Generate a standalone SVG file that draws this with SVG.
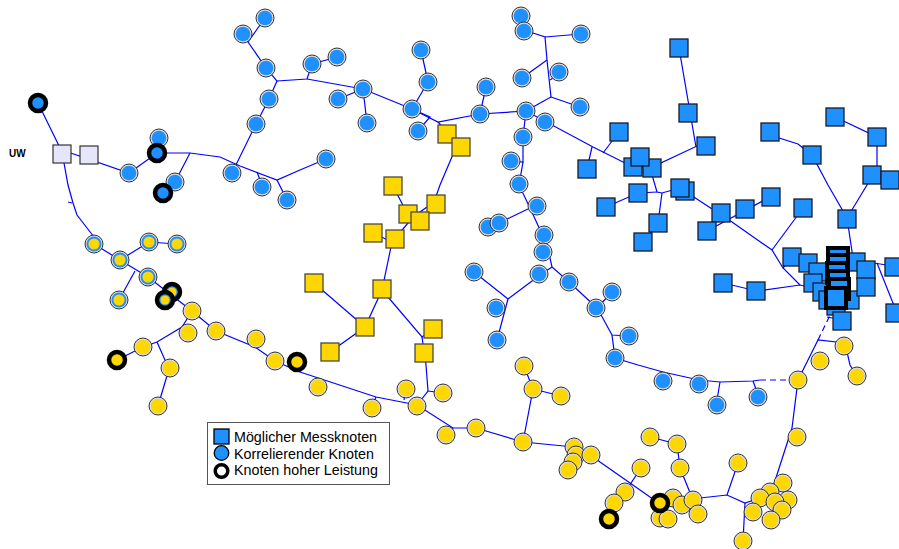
<svg xmlns="http://www.w3.org/2000/svg" xmlns:xlink="http://www.w3.org/1999/xlink" width="899" height="549" viewBox="0 0 899 549">
<style>
.e polyline{fill:none;stroke:#0000FF;stroke-width:1.2}
.e .d{stroke-dasharray:6 4}
text{font-family:"Liberation Sans",Arial,sans-serif}
</style>
<defs>
<g id="bc"><circle r="9" fill="#d9d9de" stroke="#333" stroke-width="1"/><circle r="7.3" fill="#1E90FF"/></g>
<g id="yc"><circle r="9" fill="#d9d9de" stroke="#333" stroke-width="1"/><circle r="7.3" fill="#FFD700"/></g>
<g id="ybc"><circle r="9" fill="#d9d9de" stroke="#333" stroke-width="1"/><circle r="7.5" fill="#1E90FF"/><circle r="5.6" fill="#FFD700"/></g>
<g id="hbc"><circle r="8" fill="#1E90FF" stroke="#000" stroke-width="4.5"/></g>
<g id="hyc"><circle r="8" fill="#FFD700" stroke="#000" stroke-width="4.5"/></g>
<g id="hybc"><circle r="8" fill="#1E90FF" stroke="#000" stroke-width="4.5"/><circle r="4.5" fill="#FFD700"/></g>
<rect id="bs" x="-9" y="-9" width="18" height="18" fill="#1E90FF" stroke="#1a1a28" stroke-width="1.3"/>
<rect id="ys" x="-9" y="-9" width="18" height="18" fill="#FFD700" stroke="#4a4a3a" stroke-width="1.3"/>
<rect id="ls" x="-9" y="-9" width="18" height="18" fill="#E6E6FA" stroke="#333" stroke-width="1.2"/>
<rect id="ks" x="-10" y="-10" width="20" height="20" fill="#1E90FF" stroke="#000" stroke-width="4"/>
</defs>
<rect width="899" height="549" fill="#fff"/>
<text x="9" y="157" font-size="10" font-weight="bold">UW</text>
<g id="connectors" class="e">
<polyline points="38,103 62,152 68,185 73,203 77,215 94,237"/>
<polyline points="68,202 72,203"/>
<polyline points="94,244 120,260 149,242 177,244"/>
<polyline points="62,150 129,173 157,153 190,153 220,157 240,166 277,180 300,170 326,159"/>
<polyline points="190,153 175,182"/>
<polyline points="257,172 262,185"/>
<polyline points="277,180 287,200"/>
<polyline points="232,173 256,124 269,99 277,81 266,68 248,42 265,18"/>
<polyline points="248,42 243,34"/>
<polyline points="277,81 307,79 312,64 337,57"/>
<polyline points="307,79 363,89 412,109 438,122 480,114 526,111 593,147 625,163 650,168 697,146 706,146"/>
<polyline points="363,89 338,99"/>
<polyline points="363,89 367,123"/>
<polyline points="412,109 428,82 421,50"/>
<polyline points="412,109 430,117 418,131"/>
<polyline points="438,122 447,132 452,132 457,145 462,146"/>
<polyline points="457,145 440,185 434,202 413,217 392,242 382,290 365,327 330,352"/>
<polyline points="393,186 408,215 420,221"/>
<polyline points="373,233 392,242"/>
<polyline points="314,283 365,327"/>
<polyline points="382,290 422,337 433,329"/>
<polyline points="422,337 426,365 428,391 417,405"/>
<polyline points="428,391 443,393"/>
<polyline points="480,114 486,87"/>
<polyline points="526,111 533,107 551,97 547,60 545,37 533,33 524,31"/>
<polyline points="545,37 581,34"/>
<polyline points="547,60 522,78"/>
<polyline points="551,97 580,107"/>
<polyline points="550,80 556,76"/>
<polyline points="526,111 523,137 523,162 511,161"/>
<polyline points="523,162 519,185 530,208 547,245 552,267 569,282 597,308"/>
<polyline points="530,208 499,223"/>
<polyline points="552,267 540,275 508,299 474,272"/>
<polyline points="508,299 497,340"/>
<polyline points="597,308 612,292"/>
<polyline points="600,313 612,335 629,336"/>
<polyline points="612,335 615,358 638,365 663,372 699,380 720,382 753,381 760,380"/>
<polyline class="d" points="760,380 792,380"/>
<polyline points="720,382 717,400"/>
<polyline points="753,381 757,392"/>
<polyline points="798,380 792,428 773,487"/>
<polyline points="798,380 807,362 818,340 845,343 850,365 857,376"/>
<polyline class="d" points="818,340 835,305"/>
<polyline points="827,317 842,320"/>
<polyline points="679,48 696,147"/>
<polyline points="619,132 603,153"/>
<polyline points="592,147 587,169"/>
<polyline points="640,157 650,168"/>
<polyline points="650,168 657,192 662,193 680,188"/>
<polyline points="657,192 638,193 606,207"/>
<polyline points="662,193 658,223 643,243"/>
<polyline points="680,188 732,222 772,250 783,268 800,285"/>
<polyline points="707,231 770,197"/>
<polyline points="772,250 803,208"/>
<polyline points="783,268 792,257"/>
<polyline points="723,283 757,291 800,285 820,290"/>
<polyline points="770,132 773,136 798,144 812,155 828,185 847,218"/>
<polyline points="835,117 877,137 877,169 867,185 847,218"/>
<polyline points="877,169 890,180"/>
<polyline points="847,218 853,258"/>
<polyline points="855,260 899,267"/>
<polyline points="877,263 899,318"/>
<polyline points="120,260 148,277 192,311 216,331 255,347 275,361 300,372 376,397 417,405 453,428 476,428 523,442 574,447 591,455 600,462 650,497 660,503"/>
<polyline points="135,271 119,300"/>
<polyline points="192,311 182,327 157,342 143,347 117,360"/>
<polyline points="157,342 169,369 158,406"/>
<polyline points="255,347 256,339"/>
<polyline points="376,397 372,408"/>
<polyline points="404,400 406,389"/>
<polyline points="453,428 446,435"/>
<polyline points="523,442 533,389 524,366"/>
<polyline points="533,389 561,396"/>
<polyline points="609,519 614,503 625,492 641,468"/>
<polyline points="650,437 677,444 680,468 693,500 700,498 727,495 745,503 760,498"/>
<polyline points="727,495 738,463"/>
<polyline points="745,503 743,541"/>
<polyline points="773,487 770,492"/>
</g>
<g id="nodes">
<g id="uw1"><use href="#ls" x="62" y="154"/></g>
<g id="uw2"><use href="#ls" x="89" y="155"/></g>
<g id="b1"><use href="#bc" x="265" y="18"/></g>
<g id="b2"><use href="#bc" x="243" y="34"/></g>
<g id="b3"><use href="#bc" x="266" y="68"/></g>
<g id="b4"><use href="#bc" x="269" y="99"/></g>
<g id="b5"><use href="#bc" x="256" y="124"/></g>
<g id="b6"><use href="#bc" x="159" y="138"/></g>
<g id="b7"><use href="#bc" x="129" y="173"/></g>
<g id="b8"><use href="#bc" x="232" y="173"/></g>
<g id="b9"><use href="#bc" x="262" y="187"/></g>
<g id="b10"><use href="#bc" x="175" y="182"/></g>
<g id="b11"><use href="#bc" x="287" y="200"/></g>
<g id="b12"><use href="#bc" x="312" y="64"/></g>
<g id="b13"><use href="#bc" x="337" y="57"/></g>
<g id="b14"><use href="#bc" x="363" y="89"/></g>
<g id="b15"><use href="#bc" x="338" y="99"/></g>
<g id="b16"><use href="#bc" x="367" y="123"/></g>
<g id="b17"><use href="#bc" x="421" y="50"/></g>
<g id="b18"><use href="#bc" x="428" y="82"/></g>
<g id="b19"><use href="#bc" x="412" y="109"/></g>
<g id="b20"><use href="#bc" x="418" y="131"/></g>
<g id="b21"><use href="#bc" x="480" y="114"/></g>
<g id="b22"><use href="#bc" x="486" y="87"/></g>
<g id="b23"><use href="#bc" x="326" y="159"/></g>
<g id="b24"><use href="#bc" x="521" y="16"/></g>
<g id="b25"><use href="#bc" x="524" y="31"/></g>
<g id="b26"><use href="#bc" x="581" y="34"/></g>
<g id="b27"><use href="#bc" x="559" y="72"/></g>
<g id="b28"><use href="#bc" x="522" y="78"/></g>
<g id="b29"><use href="#bc" x="580" y="107"/></g>
<g id="b30"><use href="#bc" x="526" y="111"/></g>
<g id="b31"><use href="#bc" x="545" y="122"/></g>
<g id="b32"><use href="#bc" x="523" y="137"/></g>
<g id="b33"><use href="#bc" x="511" y="161"/></g>
<g id="b34"><use href="#bc" x="519" y="184"/></g>
<g id="b35"><use href="#bc" x="537" y="206"/></g>
<g id="b36"><use href="#bc" x="488" y="227"/></g>
<g id="b37"><use href="#bc" x="499" y="223"/></g>
<g id="b38"><use href="#bc" x="544" y="235"/></g>
<g id="b39"><use href="#bc" x="543" y="252"/></g>
<g id="b40"><use href="#bc" x="474" y="272"/></g>
<g id="b41"><use href="#bc" x="539" y="274"/></g>
<g id="b42"><use href="#bc" x="569" y="282"/></g>
<g id="b43"><use href="#bc" x="596" y="308"/></g>
<g id="b44"><use href="#bc" x="612" y="292"/></g>
<g id="b45"><use href="#bc" x="496" y="308"/></g>
<g id="b46"><use href="#bc" x="497" y="340"/></g>
<g id="b47"><use href="#bc" x="629" y="336"/></g>
<g id="b48"><use href="#bc" x="615" y="358"/></g>
<g id="b49"><use href="#bc" x="663" y="381"/></g>
<g id="b50"><use href="#bc" x="699" y="384"/></g>
<g id="b51"><use href="#bc" x="717" y="405"/></g>
<g id="b52"><use href="#bc" x="758" y="397"/></g>
<g id="hb1"><use href="#hbc" x="38" y="103"/></g>
<g id="hb2"><use href="#hbc" x="157" y="153"/></g>
<g id="hb3"><use href="#hbc" x="163" y="193"/></g>
<g id="yb1"><use href="#ybc" x="94" y="244"/></g>
<g id="yb2"><use href="#ybc" x="120" y="260"/></g>
<g id="yb3"><use href="#ybc" x="149" y="242"/></g>
<g id="yb4"><use href="#ybc" x="177" y="244"/></g>
<g id="yb5"><use href="#ybc" x="148" y="277"/></g>
<g id="yb6"><use href="#ybc" x="119" y="300"/></g>
<g id="hyb1"><use href="#hybc" x="172" y="292"/></g>
<g id="hyb2"><use href="#hybc" x="165" y="300"/></g>
<g id="y1"><use href="#yc" x="192" y="311"/></g>
<g id="y2"><use href="#yc" x="188" y="333"/></g>
<g id="y3"><use href="#yc" x="216" y="331"/></g>
<g id="y4"><use href="#yc" x="256" y="339"/></g>
<g id="y5"><use href="#yc" x="143" y="347"/></g>
<g id="y6"><use href="#yc" x="170" y="368"/></g>
<g id="y7"><use href="#yc" x="158" y="406"/></g>
<g id="y8"><use href="#yc" x="275" y="361"/></g>
<g id="y9"><use href="#yc" x="318" y="387"/></g>
<g id="y10"><use href="#yc" x="372" y="408"/></g>
<g id="y11"><use href="#yc" x="406" y="389"/></g>
<g id="y12"><use href="#yc" x="417" y="406"/></g>
<g id="y13"><use href="#yc" x="443" y="393"/></g>
<g id="y14"><use href="#yc" x="446" y="435"/></g>
<g id="y15"><use href="#yc" x="476" y="428"/></g>
<g id="y16"><use href="#yc" x="523" y="442"/></g>
<g id="y17"><use href="#yc" x="524" y="366"/></g>
<g id="y18"><use href="#yc" x="533" y="389"/></g>
<g id="y19"><use href="#yc" x="561" y="396"/></g>
<g id="y20"><use href="#yc" x="574" y="447"/></g>
<g id="y21"><use href="#yc" x="576" y="455"/></g>
<g id="y22"><use href="#yc" x="573" y="462"/></g>
<g id="y23"><use href="#yc" x="568" y="470"/></g>
<g id="y24"><use href="#yc" x="591" y="455"/></g>
<g id="y25"><use href="#yc" x="798" y="380"/></g>
<g id="y26"><use href="#yc" x="820" y="361"/></g>
<g id="y27"><use href="#yc" x="844" y="346"/></g>
<g id="y28"><use href="#yc" x="857" y="376"/></g>
<g id="y29"><use href="#yc" x="797" y="437"/></g>
<g id="y30"><use href="#yc" x="650" y="437"/></g>
<g id="y31"><use href="#yc" x="677" y="444"/></g>
<g id="y32"><use href="#yc" x="680" y="468"/></g>
<g id="y33"><use href="#yc" x="738" y="463"/></g>
<g id="y34"><use href="#yc" x="641" y="468"/></g>
<g id="y35"><use href="#yc" x="625" y="492"/></g>
<g id="y36"><use href="#yc" x="614" y="503"/></g>
<g id="y37"><use href="#yc" x="660" y="518"/></g>
<g id="y38"><use href="#yc" x="668" y="519"/></g>
<g id="y39"><use href="#yc" x="673" y="498"/></g>
<g id="y40"><use href="#yc" x="682" y="505"/></g>
<g id="y41"><use href="#yc" x="693" y="500"/></g>
<g id="y42"><use href="#yc" x="698" y="514"/></g>
<g id="y43"><use href="#yc" x="743" y="541"/></g>
<g id="y44"><use href="#yc" x="783" y="483"/></g>
<g id="y45"><use href="#yc" x="770" y="492"/></g>
<g id="y46"><use href="#yc" x="760" y="498"/></g>
<g id="y47"><use href="#yc" x="788" y="500"/></g>
<g id="y48"><use href="#yc" x="775" y="502"/></g>
<g id="y49"><use href="#yc" x="782" y="510"/></g>
<g id="y50"><use href="#yc" x="753" y="512"/></g>
<g id="y51"><use href="#yc" x="771" y="520"/></g>
<g id="hy1"><use href="#hyc" x="117" y="360"/></g>
<g id="hy2"><use href="#hyc" x="297" y="362"/></g>
<g id="hy3"><use href="#hyc" x="609" y="519"/></g>
<g id="hy4"><use href="#hyc" x="660" y="503"/></g>
<g id="ys1"><use href="#ys" x="447" y="134"/></g>
<g id="ys2"><use href="#ys" x="461" y="147"/></g>
<g id="ys3"><use href="#ys" x="393" y="186"/></g>
<g id="ys4"><use href="#ys" x="436" y="204"/></g>
<g id="ys5"><use href="#ys" x="408" y="214"/></g>
<g id="ys6"><use href="#ys" x="420" y="221"/></g>
<g id="ys7"><use href="#ys" x="373" y="233"/></g>
<g id="ys8"><use href="#ys" x="395" y="239"/></g>
<g id="ys9"><use href="#ys" x="314" y="283"/></g>
<g id="ys10"><use href="#ys" x="382" y="289"/></g>
<g id="ys11"><use href="#ys" x="365" y="327"/></g>
<g id="ys12"><use href="#ys" x="433" y="329"/></g>
<g id="ys13"><use href="#ys" x="330" y="352"/></g>
<g id="ys14"><use href="#ys" x="424" y="353"/></g>
<g id="s1"><use href="#bs" x="679" y="48"/></g>
<g id="s2"><use href="#bs" x="688" y="113"/></g>
<g id="s3"><use href="#bs" x="706" y="146"/></g>
<g id="s4"><use href="#bs" x="619" y="132"/></g>
<g id="s5"><use href="#bs" x="587" y="169"/></g>
<g id="s6"><use href="#bs" x="633" y="167"/></g>
<g id="s7"><use href="#bs" x="652" y="168"/></g>
<g id="s8"><use href="#bs" x="640" y="157"/></g>
<g id="s9"><use href="#bs" x="638" y="193"/></g>
<g id="s10"><use href="#bs" x="606" y="207"/></g>
<g id="s11"><use href="#bs" x="685" y="191"/></g>
<g id="s12"><use href="#bs" x="680" y="188"/></g>
<g id="s13"><use href="#bs" x="658" y="223"/></g>
<g id="s14"><use href="#bs" x="643" y="242"/></g>
<g id="s15"><use href="#bs" x="721" y="213"/></g>
<g id="s16"><use href="#bs" x="745" y="209"/></g>
<g id="s17"><use href="#bs" x="707" y="231"/></g>
<g id="s18"><use href="#bs" x="771" y="197"/></g>
<g id="s19"><use href="#bs" x="770" y="132"/></g>
<g id="s20"><use href="#bs" x="812" y="155"/></g>
<g id="s21"><use href="#bs" x="835" y="117"/></g>
<g id="s22"><use href="#bs" x="877" y="137"/></g>
<g id="s23"><use href="#bs" x="872" y="175"/></g>
<g id="s24"><use href="#bs" x="890" y="180"/></g>
<g id="s25"><use href="#bs" x="847" y="219"/></g>
<g id="s26"><use href="#bs" x="803" y="208"/></g>
<g id="s27"><use href="#bs" x="723" y="283"/></g>
<g id="s28"><use href="#bs" x="756" y="291"/></g>
<g id="s29"><use href="#bs" x="792" y="257"/></g>
<g id="s30"><use href="#bs" x="808" y="263"/></g>
<g id="s31"><use href="#bs" x="818" y="272"/></g>
<g id="s32"><use href="#bs" x="813" y="283"/></g>
<g id="s33"><use href="#bs" x="822" y="292"/></g>
<g id="s34"><use href="#bs" x="828" y="300"/></g>
<g id="s35"><use href="#bs" x="836" y="306"/></g>
<g id="s36"><use href="#bs" x="850" y="300"/></g>
<g id="s37"><use href="#bs" x="856" y="262"/></g>
<g id="s38"><use href="#bs" x="866" y="270"/></g>
<g id="s39"><use href="#bs" x="866" y="287"/></g>
<g id="s40"><use href="#bs" x="842" y="321"/></g>
<g id="s41"><use href="#bs" x="894" y="267"/></g>
<g id="s42"><use href="#bs" x="895" y="313"/></g>
<g id="k1"><use href="#ks" x="838" y="258"/></g>
<g id="k2"><use href="#ks" x="838" y="265"/></g>
<g id="k3"><use href="#ks" x="837" y="273"/></g>
<g id="k4"><use href="#ks" x="838" y="281"/></g>
<g id="k5"><use href="#ks" x="839" y="289"/></g>
<g id="k6"><use href="#ks" x="836" y="298"/></g>
</g>
<g id="legend">
<rect x="207.5" y="422.5" width="182" height="62" fill="#fff" stroke="#555" stroke-width="1"/>
<rect x="214" y="429" width="15" height="15" fill="#1E90FF" stroke="#000" stroke-width="1.3"/>
<circle cx="221.5" cy="453" r="7.3" fill="#1E90FF" stroke="#000" stroke-width="1.3"/>
<circle cx="221.5" cy="471" r="6.3" fill="#fff" stroke="#000" stroke-width="3.5"/>
<text x="234" y="442" font-size="14.3">Möglicher Messknoten</text>
<text x="234" y="459" font-size="14.3">Korrelierender Knoten</text>
<text x="234" y="475" font-size="14.3">Knoten hoher Leistung</text>
</g>
</svg>
